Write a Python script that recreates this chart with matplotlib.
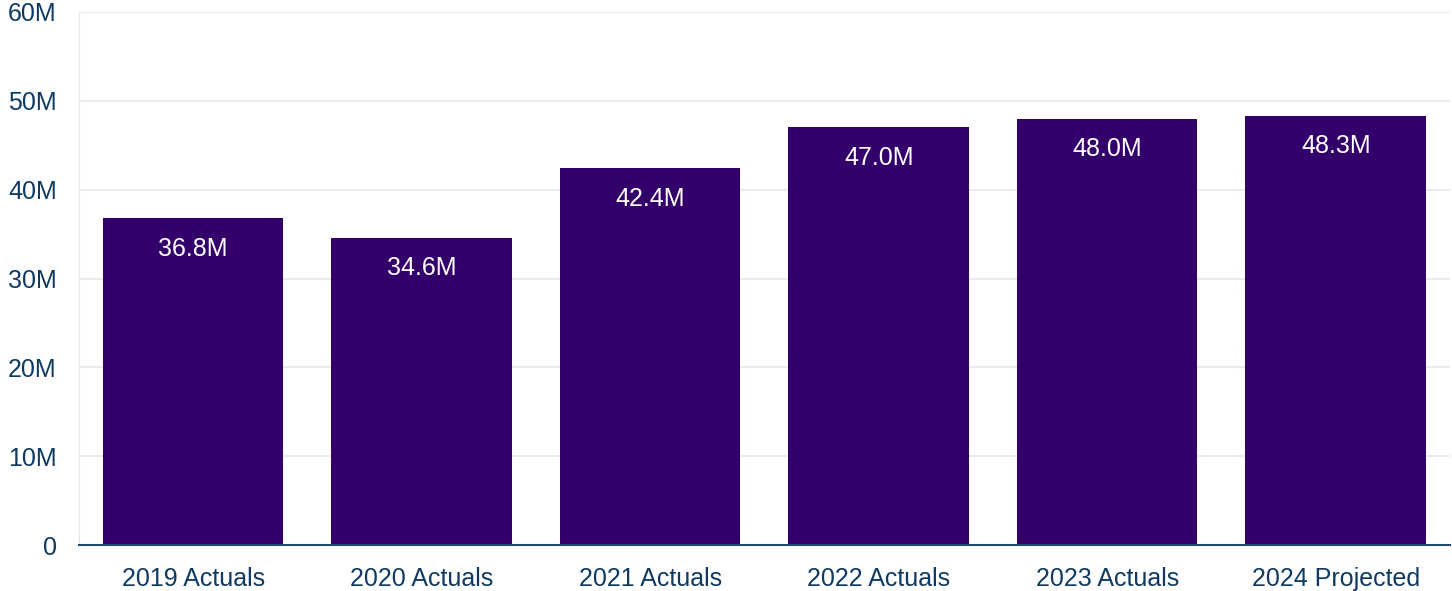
import matplotlib.pyplot as plt
from matplotlib.ticker import FuncFormatter

categories = ["2019 Actuals", "2020 Actuals", "2021 Actuals",
              "2022 Actuals", "2023 Actuals", "2024 Projected"]
values = [36.8, 34.6, 42.4, 47.0, 48.0, 48.3]  # millions

plt.rcParams["font.family"] = ["Liberation Sans", "DejaVu Sans"]

bar_color = "#33006b"
text_color = "#0f3a62"

fig = plt.figure(figsize=(14.52, 5.91), dpi=100)
ax = fig.add_axes([0.0544, 0.0778, 0.9442, 0.9019])

x = range(len(categories))
bars = ax.bar(x, values, width=0.79, color=bar_color, zorder=3)

for b, v in zip(bars, values):
    ax.annotate(f"{v:.1f}M", (b.get_x() + b.get_width() / 2, v),
                xytext=(0, -22), textcoords="offset points",
                ha="center", va="center", color="white", fontsize=18, zorder=4)

ax.set_xlim(-0.5, len(categories) - 0.5)
ax.set_ylim(0, 60)
ax.set_yticks(range(0, 61, 10))
ax.yaxis.set_major_formatter(FuncFormatter(lambda v, p: "0" if v == 0 else f"{int(v)}M"))
ax.set_xticks(list(x))
ax.set_xticklabels(categories)

ax.grid(axis="y", color="#e6e6e6", linewidth=1.2, zorder=0)
for s in ["top", "right"]:
    ax.spines[s].set_visible(False)
ax.spines["left"].set_color("#e6e6e6")
ax.spines["bottom"].set_color("#1e4a6e")
ax.spines["bottom"].set_linewidth(1.5)
ax.spines["bottom"].set_zorder(5)

ax.tick_params(axis="both", length=0, labelsize=18, colors=text_color)
ax.tick_params(axis="y", pad=16)
ax.tick_params(axis="x", pad=16)

fig.savefig("out.png", dpi=100)
